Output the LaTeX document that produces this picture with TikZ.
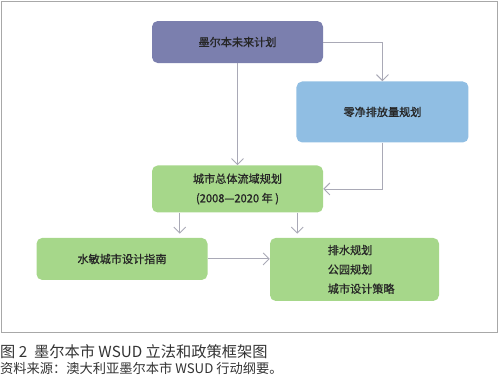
\documentclass[tikz,border=0pt]{standalone}
\usepackage{fontspec}
\setmainfont{Noto Sans CJK SC}
\newfontfamily\boxfont[FakeBold=0.9]{Noto Sans CJK SC}
\usepackage{xcolor}
\usepackage{tikz}
\usetikzlibrary{arrows.meta, positioning}

\definecolor{futfill}{HTML}{7B7FAE}
\definecolor{zerofill}{HTML}{90BEE3}
\definecolor{planfill}{HTML}{A6D78A}
\definecolor{linkgray}{HTML}{A9A9B6}
\definecolor{framegray}{HTML}{A8A8A8}

\begin{document}
\begin{tikzpicture}[>={Straight Barb[length=1.8mm,width=3.6mm]},
    box/.style={rounded corners=0.17cm,minimum width=5.13cm,align=center,
      inner sep=2pt,text=black!85,font=\boxfont\fontsize{9.5}{16.5}\selectfont},
    link/.style={->,draw=linkgray,line width=0.8pt}]
  \useasboundingbox (0,0) rectangle (15,-11.28);
  \draw[framegray,line width=0.8pt] (0.03,-0.03) rectangle (14.91,-9.96);
  \node[box,fill=futfill,minimum height=1.26cm] (fut) at (7.125,-1.26)
    {墨尔本未来计划};
  \node[box,fill=zerofill,minimum width=5.16cm,minimum height=1.83cm,
        below right=0.54cm and -0.81cm of fut] (zero)
    {零净排放量规划};
  \node[box,fill=planfill,minimum height=1.41cm,
        below=3.06cm of fut] (plan)
    {城市总体流域规划\\(2008—2020 年 )};
  \node[box,fill=planfill,minimum height=1.26cm,
        below=0.75cm of plan,xshift=-3.465cm] (guide)
    {水敏城市设计指南};
  \node[box,fill=planfill,minimum width=5.07cm,minimum height=1.89cm,
        align=left,below=0.75cm of plan,xshift=3.51cm] (measures)
    {\hspace*{0.4cm}排水规划\\\hspace*{0.4cm}公园规划\\\hspace*{0.4cm}城市设计策略};
  \coordinate (lft) at ([xshift=0.84cm]plan.south west);
  \coordinate (rgt) at ([xshift=-0.78cm]plan.south east);
  \draw[link](fut) -| (zero);
  \draw[link](fut) -- (plan);
  \draw[link](zero) |- (plan);
  \draw[link,shorten >=1.2mm](lft) -- (lft |- guide.north);
  \draw[link,shorten >=1.2mm](rgt) -- (rgt |- measures.north);
  \draw[link](guide) -- (guide -| measures.west);
  \node[anchor=west,inner sep=0,text=black!80,
        font=\fontsize{13}{14}\selectfont] (cap) at (0,-10.56)
    {图 2\ \ 墨尔本市 WSUD 立法和政策框架图};
  \node[anchor=west,inner sep=0,text=black!80,
        font=\fontsize{11.3}{12}\selectfont] (src) at (0,-11.04)
    {资料来源：澳大利亚墨尔本市 WSUD 行动纲要。};
\end{tikzpicture}
\end{document}
